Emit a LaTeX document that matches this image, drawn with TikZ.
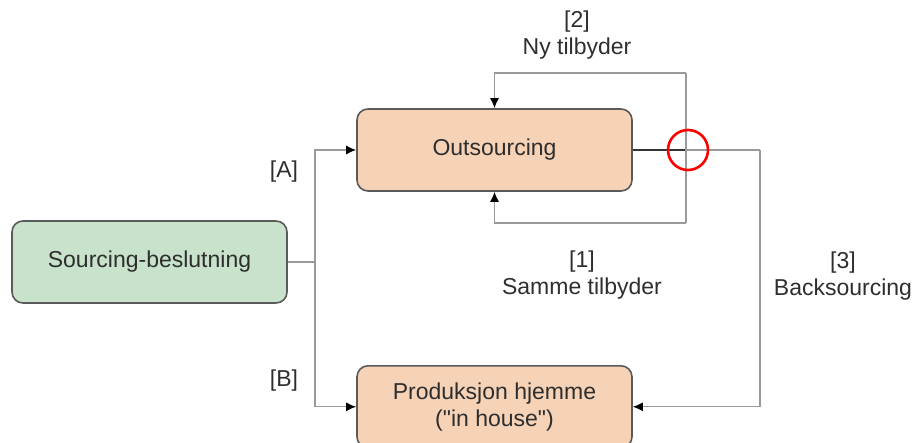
\documentclass[tikz,border=0pt]{standalone}
\usepackage{fontspec}
\setmainfont{Liberation Sans}[Ligatures=TeXOff]
\usetikzlibrary{arrows.meta}
\definecolor{peach}{HTML}{F6D2B6}
\definecolor{mint}{HTML}{C8E2CB}
\definecolor{boxline}{HTML}{5A5A5A}
\definecolor{wire}{HTML}{9A9A9A}
\definecolor{ink}{HTML}{2E2E2E}
\begin{document}
\begin{tikzpicture}[x=1pt,y=-1pt,
  every node/.style={font=\fontsize{23}{27}\selectfont, text=ink},
  proc/.style={draw=boxline, line width=1.6pt, rounded corners=11pt, minimum width=275pt, minimum height=82pt, align=center, inner sep=0pt},
  wirestyle/.style={draw=wire, line width=1.3pt},
  tip/.style={-{Latex[length=10pt,width=9pt,color=black]}},
  lbl/.style={align=center, inner sep=0pt}]
\useasboundingbox (0,0) rectangle (915,443);
% boxes
\node[proc, fill=mint] (src) at (149.5,262) {Sourcing-beslutning};
\node[proc, fill=peach] (out) at (494.5,150) {Outsourcing};
\node[proc, fill=peach, anchor=north] (home) at (494.5,365) {Produksjon hjemme\\("in house")};
% junction points
\coordinate (split) at (315,262);
\coordinate (loopR) at (686,150);
\coordinate (loopT) at (686,73);
\coordinate (loopB) at (686,223);
\coordinate (backR) at (760,150);
% decision branches
\draw[wirestyle] (src.east) -- (split);
\draw[wirestyle, tip] (split) |- (out.west);
\draw[wirestyle, tip] (split) |- (home.west);
% loops back to the outsourcing box
\draw[draw=black!80, line width=1.3pt] (out.east) -- (loopR);
\draw[wirestyle] (loopT) -- (loopB);
\draw[wirestyle, tip] (loopT) -| (out.north);
\draw[wirestyle, tip] (loopB) -| (out.south);
% backsourcing
\draw[wirestyle] (loopR) -- (backR);
\draw[wirestyle, tip] (backR) |- (home.east);
% highlight circle
\node[draw=red, line width=2.6pt, circle, minimum size=40pt, inner sep=0pt] (mark) at (688,150) {};
% labels
\node[lbl] (la) at (284,172) {[A]};
\node[lbl] (lb) at (284,381) {[B]};
\node[lbl] (l2) at (577,35) {[2]\\Ny tilbyder};
\node[lbl] (l1) at (582,275) {[1]\\Samme tilbyder};
\node[lbl] (l3) at (843,276) {[3]\\Backsourcing};
\end{tikzpicture}
\end{document}
